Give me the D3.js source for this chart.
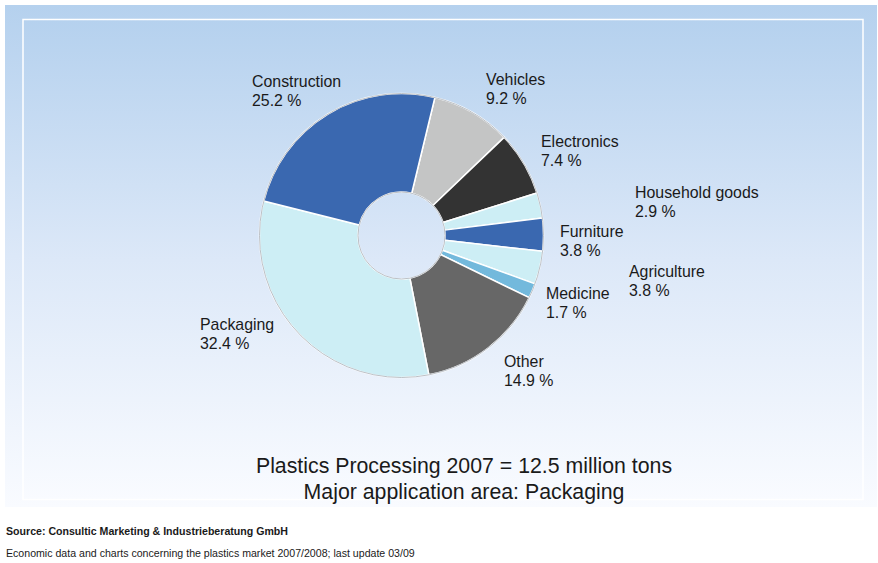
<!DOCTYPE html>
<html>
<head>
<meta charset="utf-8">
<script src="https://cdn.jsdelivr.net/npm/d3@7"></script>
<style>
  html, body { margin: 0; padding: 0; background: #ffffff; }
  svg { display: block; font-family: "Liberation Sans", Arial, Helvetica, sans-serif; }
</style>
</head>
<body>
<svg id="chart" width="878" height="563"></svg>
<script>
// ---- data ----
const categories = ["Vehicles", "Electronics", "Household goods", "Furniture", "Agriculture", "Medicine", "Other", "Packaging", "Construction"];
const shares = [9.2, 7.4, 2.9, 3.8, 3.8, 1.7, 14.9, 32.4, 25.2];
const shareLabels = ["9.2 %", "7.4 %", "2.9 %", "3.8 %", "3.8 %", "1.7 %", "14.9 %", "32.4 %", "25.2 %"];
const titleLines = ["Plastics Processing 2007 = 12.5 million tons", "Major application area: Packaging"];
const sourceText = "Source: Consultic Marketing & Industrieberatung GmbH";
const noteText = "Economic data and charts concerning the plastics market 2007/2008; last update 03/09";

// ---- styling / layout (kept apart from data) ----
const sliceColors = ["#c4c5c5", "#333333", "#cdeef5", "#3a68b0", "#cdeef5", "#73b9dc", "#676767", "#cdeef5", "#3a68b0"];
// label anchor (left x, first baseline y)
const labelPos = [[486, 85], [541, 147], [635, 198], [560, 237], [629, 277], [546, 299], [504, 367], [200, 330], [252, 87]];

const svg = d3.select("#chart");

// background gradient
const defs = svg.append("defs");
const grad = defs.append("linearGradient").attr("id", "bg").attr("x1", 0).attr("y1", 0).attr("x2", 0).attr("y2", 1);
grad.append("stop").attr("offset", "0%").attr("stop-color", "#b5d1ee");
grad.append("stop").attr("offset", "50%").attr("stop-color", "#dce8f8");
grad.append("stop").attr("offset", "100%").attr("stop-color", "#f9fbff");

svg.append("rect").attr("x", 5).attr("y", 5).attr("width", 872).attr("height", 502).attr("fill", "url(#bg)");
svg.append("rect").attr("x", 23).attr("y", 19.5).attr("width", 840).attr("height", 480)
  .attr("fill", "url(#bg)").attr("stroke", "#ffffff").attr("stroke-width", 1.5);

// pie
const cx = 401.5, cy = 235.5, rOuter = 142, rInner = 43.5;
const start = 13.6 * Math.PI / 180;
const pie = d3.pie().sort(null).value(d => d).startAngle(start).endAngle(start + 2 * Math.PI);
const arc = d3.arc().innerRadius(rInner).outerRadius(rOuter);
const arcs = pie(shares);

const g = svg.append("g").attr("transform", `translate(${cx},${cy})`);
g.selectAll("path.slice").data(arcs).join("path")
  .attr("class", "slice")
  .attr("d", arc)
  .attr("fill", (d, i) => sliceColors[i])
  .attr("stroke", "#ffffff")
  .attr("stroke-width", 1.5)
  .attr("stroke-linejoin", "round");

g.append("circle").attr("r", rOuter).attr("fill", "none").attr("stroke", "#a9b0b8").attr("stroke-width", 0.8);
g.append("circle").attr("r", rInner).attr("fill", "none").attr("stroke", "#a9b0b8").attr("stroke-width", 0.8);

// labels
const lbl = svg.append("g").attr("font-size", 15.9).attr("fill", "#1a1a1a");
categories.forEach((c, i) => {
  const t = lbl.append("text").attr("x", labelPos[i][0]).attr("y", labelPos[i][1]);
  t.append("tspan").attr("x", labelPos[i][0]).text(c);
  t.append("tspan").attr("x", labelPos[i][0]).attr("dy", 18.5).text(shareLabels[i]);
});

// title
svg.append("g").selectAll("text").data(titleLines).join("text")
  .attr("x", 464).attr("y", (d, i) => 473 + i * 26)
  .attr("text-anchor", "middle").attr("font-size", 21.3).attr("fill", "#1a1a1a")
  .text(d => d);

// footer
svg.append("text").attr("x", 6).attr("y", 535).attr("font-size", 10.6).attr("font-weight", "bold").attr("fill", "#1a1a1a").text(sourceText);
svg.append("text").attr("x", 6).attr("y", 557).attr("font-size", 10.6).attr("fill", "#1a1a1a").text(noteText);
</script>
</body>
</html>
